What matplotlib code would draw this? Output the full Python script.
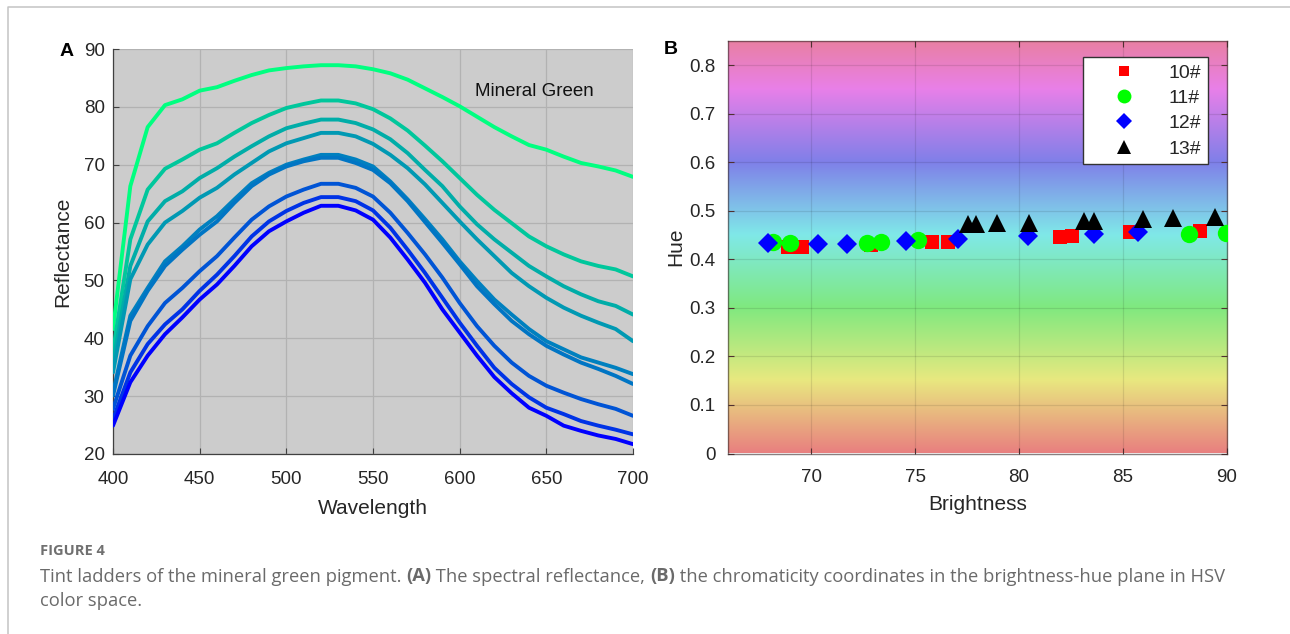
import numpy as np
import matplotlib
matplotlib.use('Agg')
import matplotlib.pyplot as plt
from matplotlib.colors import hsv_to_rgb
from matplotlib.lines import Line2D

# ---- panel A: spectral reflectance of the tint ladder ----
wavelength = list(range(400, 701, 10))

refl_1 = [41.6, 66.3, 76.5, 80.3, 81.3, 82.8, 83.4, 84.5, 85.5, 86.3, 86.7, 87.0, 87.2, 87.2, 87.0, 86.5,
          85.8, 84.7, 83.2, 81.7, 80.1, 78.3, 76.5, 74.9, 73.4, 72.6, 71.4, 70.3, 69.7, 69.0, 67.9]
refl_2 = [37.8, 57.1, 65.7, 69.3, 70.9, 72.6, 73.7, 75.5, 77.2, 78.6, 79.8, 80.5, 81.1, 81.1, 80.6, 79.6,
          78.0, 75.9, 73.3, 70.6, 67.7, 64.8, 62.2, 59.9, 57.6, 55.9, 54.5, 53.3, 52.5, 51.9, 50.7]
refl_3 = [35.8, 52.5, 60.2, 63.7, 65.4, 67.7, 69.4, 71.4, 73.2, 74.9, 76.3, 77.1, 77.8, 77.8, 77.2, 76.1,
          74.4, 72.0, 69.1, 66.3, 62.8, 59.7, 57.1, 54.8, 52.5, 50.7, 49.0, 47.6, 46.4, 45.6, 44.1]
refl_4 = [34.1, 50.2, 56.2, 60.0, 62.0, 64.3, 66.0, 68.3, 70.3, 72.3, 73.7, 74.6, 75.5, 75.5, 74.9, 73.6,
          71.7, 69.4, 66.6, 63.4, 60.2, 57.1, 54.2, 51.3, 49.0, 47.0, 45.3, 43.9, 42.7, 41.6, 39.5]
refl_5 = [30.6, 43.9, 48.7, 53.3, 55.9, 58.8, 61.1, 64.0, 66.8, 68.6, 70.0, 70.9, 71.7, 71.7, 70.9, 69.7,
          67.1, 64.0, 60.6, 57.1, 53.3, 49.9, 46.7, 44.1, 41.6, 39.5, 38.1, 36.7, 35.8, 34.9, 33.8]
refl_6 = [30.1, 43.0, 48.2, 52.5, 55.3, 57.9, 60.2, 63.4, 66.3, 68.3, 69.7, 70.6, 71.2, 71.2, 70.3, 69.1,
          66.8, 63.7, 60.1, 56.5, 52.8, 49.0, 45.9, 43.0, 40.7, 38.7, 37.2, 35.8, 34.7, 33.5, 32.1]
refl_7 = [27.8, 37.0, 42.1, 46.1, 48.7, 51.6, 54.2, 57.4, 60.5, 62.8, 64.5, 65.7, 66.7, 66.7, 66.0, 64.5,
          61.7, 58.2, 54.5, 50.5, 46.1, 42.1, 38.7, 35.8, 33.5, 31.8, 30.6, 29.5, 28.6, 27.8, 26.6]
refl_8 = [26.0, 34.1, 39.0, 42.4, 45.0, 48.2, 51.0, 54.2, 57.6, 60.2, 62.0, 63.4, 64.4, 64.4, 63.7, 62.1,
          59.1, 55.3, 51.3, 47.0, 42.7, 38.7, 34.9, 32.1, 29.8, 28.0, 26.9, 25.7, 24.9, 24.2, 23.4]
refl_9 = [24.9, 32.4, 37.0, 40.7, 43.6, 46.7, 49.3, 52.5, 55.9, 58.5, 60.2, 61.7, 62.9, 62.9, 62.1, 60.5,
          57.4, 53.6, 49.6, 45.0, 41.0, 37.0, 33.3, 30.5, 28.0, 26.6, 24.9, 24.0, 23.2, 22.6, 21.7]

curves = [refl_1, refl_2, refl_3, refl_4, refl_5, refl_6, refl_7, refl_8, refl_9]
curve_colors = ['#00ff80', '#00c79c', '#00ada8', '#0099b3', '#0080bf', '#0075c4', '#0054d5', '#0033e6', '#0000ff']

# ---- panel B: brightness-hue coordinates ----
b10 = [68.88, 69.57, 72.90, 75.80, 76.57, 81.99, 82.55, 85.35, 88.70]
h10 = [0.426, 0.426, 0.429, 0.435, 0.435, 0.446, 0.449, 0.457, 0.459]
b11 = [68.16, 68.96, 72.68, 73.37, 75.16, 88.16, 89.95]
h11 = [0.436, 0.433, 0.433, 0.436, 0.440, 0.452, 0.455]
b12 = [67.93, 70.32, 71.73, 74.57, 77.08, 80.45, 83.59, 85.71]
h12 = [0.434, 0.431, 0.431, 0.438, 0.442, 0.449, 0.453, 0.457]
b13 = [77.53, 77.93, 78.94, 80.50, 83.11, 83.62, 85.98, 87.39, 89.42]
h13 = [0.473, 0.473, 0.474, 0.475, 0.479, 0.479, 0.484, 0.486, 0.488]

W, H = 1290, 634
fig = plt.figure(figsize=(W / 100, H / 100), dpi=100)
fig.patch.set_facecolor('white')

FONT = 'Liberation Sans'
TXT = '#262626'

def ax_rect(x0, y0, x1, y1):
    return [x0 / W, 1 - y1 / H, (x1 - x0) / W, (y1 - y0) / H]

# ---------- left panel ----------
ax1 = fig.add_axes(ax_rect(113, 49, 633, 454))
ax1.set_facecolor('#cccccc')
for y, c in zip(curves, curve_colors):
    ax1.plot(wavelength, y, color=c, lw=2.8, solid_capstyle='round', zorder=3)
ax1.set_xlim(400, 700)
ax1.set_ylim(20, 90)
ax1.set_xticks(range(400, 701, 50))
ax1.set_yticks(range(20, 91, 10))
ax1.grid(True, color='#b2b2b2', lw=0.9, zorder=1)
ax1.set_axisbelow(True)
for s in ['top', 'right']:
    ax1.spines[s].set_visible(False)
for s in ['left', 'bottom']:
    ax1.spines[s].set_color('#404040')
    ax1.spines[s].set_linewidth(0.9)
ax1.tick_params(axis='both', direction='in', length=4, width=0.8, color='#404040',
                labelsize=13.5, labelcolor=TXT)
ax1.tick_params(axis='x', pad=12)
ax1.tick_params(axis='y', pad=6)
for lab in ax1.get_xticklabels() + ax1.get_yticklabels():
    lab.set_fontfamily(FONT)
ax1.set_xlabel('Wavelength', fontsize=15, family=FONT, color=TXT, labelpad=8)
ax1.set_ylabel('Reflectance', fontsize=15, family=FONT, color=TXT, labelpad=8)
ax1.text(609, 82.7, 'Mineral Green', fontsize=13.5, family=FONT, color='#111111', va='center', ha='left')

# ---------- right panel ----------
ax2 = fig.add_axes(ax_rect(728, 41, 1227, 453.5))
ylo, yhi = 0, 0.85
yy = np.linspace(ylo, yhi, 400)
hsv = np.stack([yy / 0.9, np.full_like(yy, 0.45), np.full_like(yy, 0.91)], axis=-1)
bg = hsv_to_rgb(hsv)[:, None, :]
ax2.imshow(bg, extent=[66, 90, ylo, yhi], origin='lower', aspect='auto', zorder=0, interpolation='bilinear')
ax2.set_xlim(66, 90)
ax2.set_ylim(ylo, yhi)
ax2.set_xticks([70, 75, 80, 85, 90])
ax2.set_yticks([0, 0.1, 0.2, 0.3, 0.4, 0.5, 0.6, 0.7, 0.8])
ax2.set_yticklabels(['0', '0.1', '0.2', '0.3', '0.4', '0.5', '0.6', '0.7', '0.8'])
ax2.grid(True, color='#000000', alpha=0.10, lw=0.9)

ms = dict(linestyle='none', zorder=4)
ax2.plot(b10, h10, marker='s', color='#ff0000', markersize=9.5, markeredgewidth=0, label='10#', **ms)
ax2.plot(b11, h11, marker='o', color='#00ff00', markersize=12.5, markeredgewidth=0, label='11#', **ms)
ax2.plot(b12, h12, marker='D', color='#0000ff', markersize=10.5, markeredgewidth=0, label='12#', **ms)
ax2.plot(b13, h13, marker='^', color='#000000', markersize=13, markeredgewidth=0, label='13#', **ms)

for s in ax2.spines.values():
    s.set_color('#3a2a2a')
    s.set_alpha(0.6)
    s.set_linewidth(1.0)
ax2.tick_params(axis='both', direction='in', length=4, width=0.8, color='#503030',
                labelsize=13.5, labelcolor=TXT, right=True, top=True)
ax2.tick_params(axis='x', pad=11)
ax2.tick_params(axis='y', pad=9)
for lab in ax2.get_xticklabels() + ax2.get_yticklabels():
    lab.set_fontfamily(FONT)
ax2.set_xlabel('Brightness', fontsize=15, family=FONT, color=TXT, labelpad=7)
ax2.set_ylabel('Hue', fontsize=15, family=FONT, color=TXT, labelpad=3)

leg = ax2.legend(loc='upper right', bbox_to_anchor=(0.962, 0.961), borderaxespad=0,
                 prop={'family': FONT, 'size': 14}, frameon=True, fancybox=False,
                 handlelength=3.5, handletextpad=0.55, labelspacing=0.40, borderpad=0.35,
                 markerscale=0.8)
leg.get_frame().set_edgecolor('#333333')
leg.get_frame().set_linewidth(1.0)
leg.get_frame().set_alpha(1)
for t in leg.get_texts():
    t.set_color(TXT)

# panel letters
fig.text(67 / W, 1 - 51 / H, 'A', fontsize=14, fontweight='bold', family=FONT, ha='center', va='center')
fig.text(671 / W, 1 - 50 / H, 'B', fontsize=14, fontweight='bold', family=FONT, ha='center', va='center')

# ---------- outer frame ----------
fx = 7.5 / W
fy = 1 - 7 / H
fig.add_artist(Line2D([fx, fx, 1.0], [0.0, fy, fy], transform=fig.transFigure,
                      color='#c4c4c4', lw=1.1))

# ---------- caption ----------
CAP = 'Open Sans'
renderer = fig.canvas.get_renderer()

def run_width(s, **kw):
    a = fig.text(0, 0, '|' + s + '|', **kw)
    b = fig.text(0, 0, '||', **kw)
    w = a.get_window_extent(renderer).width - b.get_window_extent(renderer).width
    a.remove()
    b.remove()
    return w

def place_runs(x_px, y_px, runs, **kw):
    x = x_px
    for s, weight in runs:
        fig.text(x / W, 1 - y_px / H, s, fontweight=weight, ha='left', va='baseline', **kw)
        x += run_width(s, fontweight=weight, **kw)

fig.text(40 / W, 1 - 555 / H, 'FIGURE 4', fontsize=10.5, fontweight='bold', family=CAP,
         color='#707070', ha='left', va='baseline')
cap_kw = dict(fontsize=13.2, family=CAP, color='#6a6a6a')
place_runs(40, 581.5, [('Tint ladders of the mineral green pigment. ', 'normal'),
                       ('(A)', 'bold'),
                       (' The spectral reflectance, ', 'normal'),
                       ('(B)', 'bold'),
                       (' the chromaticity coordinates in the brightness-hue plane in HSV', 'normal')],
           **cap_kw)
place_runs(40, 605.5, [('color space.', 'normal')], **cap_kw)

fig.savefig('out.png', dpi=100)
